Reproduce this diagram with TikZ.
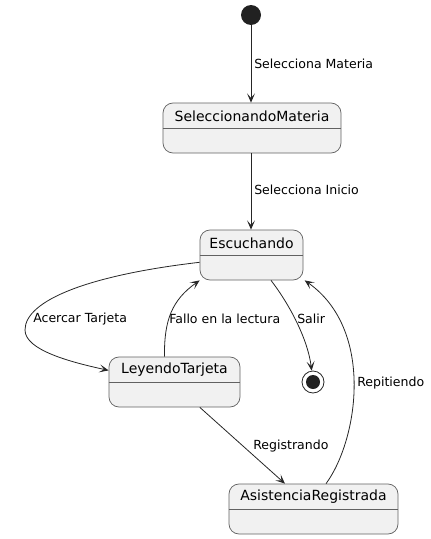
\documentclass[tikz,border=0pt]{standalone}
\usepackage{fontspec}
\setmainfont{DejaVu Sans}
\usetikzlibrary{arrows.meta,calc}

\tikzset{
  state/.style={draw=black!62, line width=0.55pt, fill=gray!11, rounded corners=7.5pt,
    minimum height=37.5pt, inner sep=0pt},
  statename/.style={font=\fontsize{10.5pt}{12pt}\selectfont, inner sep=0pt},
  trans/.style={draw=black!85, line width=0.6pt, -{Stealth[length=7pt,width=6pt,inset=3.5pt]}},
  translabel/.style={font=\fontsize{9.4pt}{11pt}\selectfont, anchor=west, inner sep=0pt}
}

\begin{document}
\begin{tikzpicture}[x=0.75pt, y=-0.75pt]
        \useasboundingbox (0,0) rectangle (431,539);

        % Stati
        \node[state, minimum width=133.5pt] (materia) at (252,128) {};
        \draw[black!62, line width=0.55pt] (materia.west) -- (materia.east);
        \node[statename] (materianame) at (252,116) {SeleccionandoMateria};

        \node[state, minimum width=77.25pt] (escuchando) at (251.5,255) {};
        \draw[black!62, line width=0.55pt] (escuchando.west) -- (escuchando.east);
        \node[statename] (escuchandoname) at (251.5,243) {Escuchando};

        \node[state, minimum width=98.25pt] (leyendo) at (174.5,382) {};
        \draw[black!62, line width=0.55pt] (leyendo.west) -- (leyendo.east);
        \node[statename] (leyendoname) at (174.5,370) {LeyendoTarjeta};

        \node[state, minimum width=126.75pt] (asistencia) at (313.5,509) {};
        \draw[black!62, line width=0.55pt] (asistencia.west) -- (asistencia.east);
        \node[statename] (asistencianame) at (313.5,497) {AsistenciaRegistrada};

        % Inizio e fine
        \node[circle, fill=black!87, minimum size=15pt, inner sep=0pt] (inicio) at (251,15) {};
        \node[circle, draw=black!85, line width=0.6pt, minimum size=16.5pt, inner sep=0pt] (fin) at (313,382) {};
        \node[circle, fill=black!87, minimum size=10.5pt, inner sep=0pt] (finpunto) at (fin.center) {};

        % Transizioni
        \draw[trans] (inicio) -- (materia.north -| inicio);
        \draw[trans] (materia.south -| inicio) -- (escuchando.north -| inicio);
        \draw[trans] (escuchando.188) .. controls (90,275) and (25,300) .. (25,330)
                     .. controls (25,350) and (70,362) .. (leyendo.170);
        \draw[trans] ([xshift=-7.5pt]leyendo.north) .. controls (164,320) and (172,300) .. (escuchando.south west);
        \draw[trans] ([xshift=14.6pt]escuchando.south) .. controls (290,305) and (308,340) .. (fin);
        \draw[trans] ([xshift=19pt]leyendo.south) -- ([xshift=-21.4pt]asistencia.north);
        \draw[trans] ([xshift=9.4pt]asistencia.north) .. controls (358,440) and (375,330) .. ([xshift=1pt]escuchando.south east);

        % Etichette
        \node[translabel] (lmateria) at (254,64) {Selecciona Materia};
        \node[translabel] (linicio) at (254,190) {Selecciona Inicio};
        \node[translabel] (lacercar) at (33,319) {Acercar Tarjeta};
        \node[translabel] (lfallo) at (169,319) {Fallo en la lectura};
        \node[translabel] (lsalir) at (297,319) {Salir};
        \node[translabel] (lregistrando) at (253,446) {Registrando};
        \node[translabel] (lrepitiendo) at (357,383) {Repitiendo};

    \end{tikzpicture}
\end{document}
